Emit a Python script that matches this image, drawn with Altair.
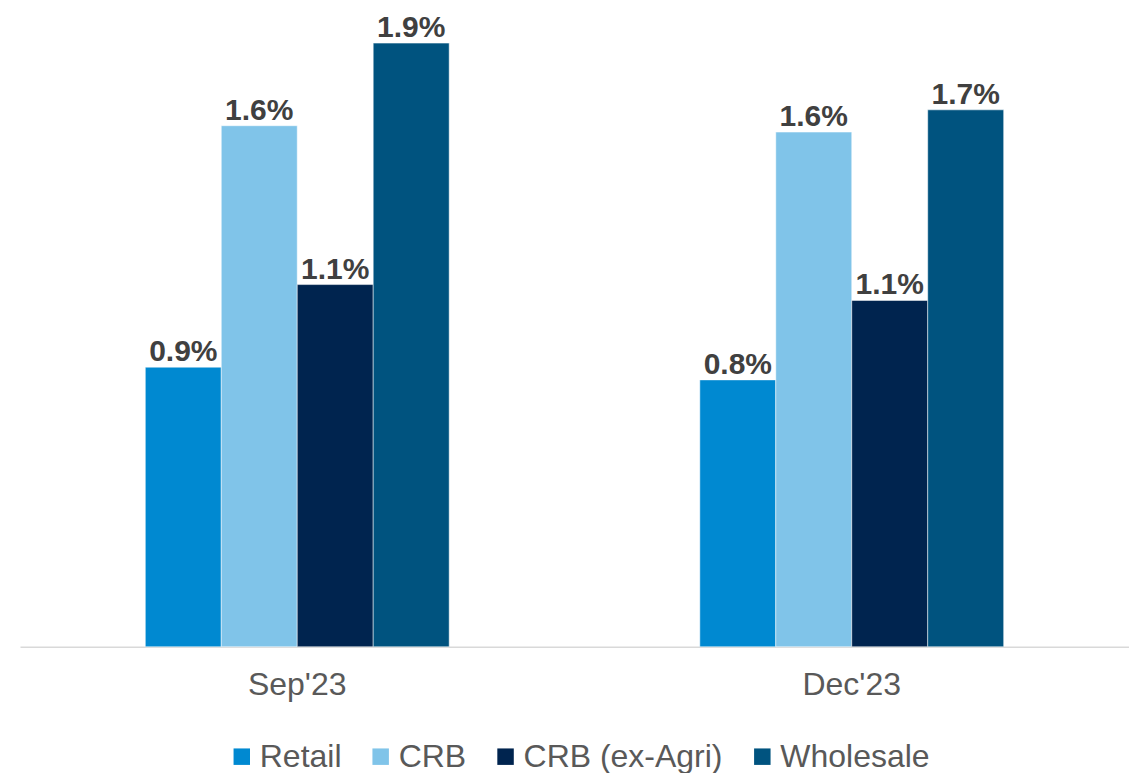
import altair as alt
import pandas as pd

periods = ["Sep'23", "Dec'23"]
series = ["Retail", "CRB", "CRB (ex-Agri)", "Wholesale"]
values_sep = [0.88, 1.64, 1.14, 1.90]
values_dec = [0.84, 1.62, 1.09, 1.69]
colors = ["#0089D1", "#80C4E9", "#00244F", "#00537F"]

rows = []
for p, vals in zip(periods, [values_sep, values_dec]):
    for s, v in zip(series, vals):
        rows.append({"period": p, "series": s, "value": v})
df = pd.DataFrame(rows)

FONT = "Liberation Sans"

x = alt.X("period:N", sort=periods, title=None,
          scale=alt.Scale(paddingInner=0.452, paddingOuter=0.226),
          axis=alt.Axis(labelAngle=0, labelFontSize=32, labelColor="#595959",
                        labelFont=FONT, labelPadding=23, ticks=False,
                        domainColor="#D9D9D9", domainWidth=1.5))
y = alt.Y("value:Q", scale=alt.Scale(domain=[0, 2.0], nice=False), axis=None)
xo = alt.XOffset("series:N", sort=series, scale=alt.Scale(paddingInner=0, paddingOuter=0))

bars = alt.Chart(df).mark_bar(stroke="white", strokeWidth=0.5).encode(
    x=x, y=y, xOffset=xo,
    color=alt.Color("series:N", sort=series,
                    scale=alt.Scale(domain=series, range=colors),
                    legend=alt.Legend(title=None, orient="none", direction="horizontal",
                                      legendX=206, legendY=730,
                                      symbolType="square", symbolSize=272,
                                      symbolStrokeWidth=0,
                                      labelFontSize=32, labelFont=FONT,
                                      labelColor="#595959", labelOffset=2,
                                      columnPadding=23, labelLimit=400)),
)

labels = alt.Chart(df).transform_calculate(
    lab="format(datum.value, '.1f') + '%'"
).mark_text(fontSize=30, fontWeight="bold", font=FONT, color="#404040",
            baseline="alphabetic", dy=-6).encode(
    x=x, y=y, xOffset=xo, text="lab:N"
)

chart = alt.layer(bars, labels).properties(
    width=1110, height=636,
    autosize=alt.AutoSizeParams(type="none"),
    padding={"left": 12, "top": 3, "right": 0, "bottom": 126},
).configure_view(stroke=None)

chart.save("out.html", embed_options={"renderer": "svg", "actions": False})
